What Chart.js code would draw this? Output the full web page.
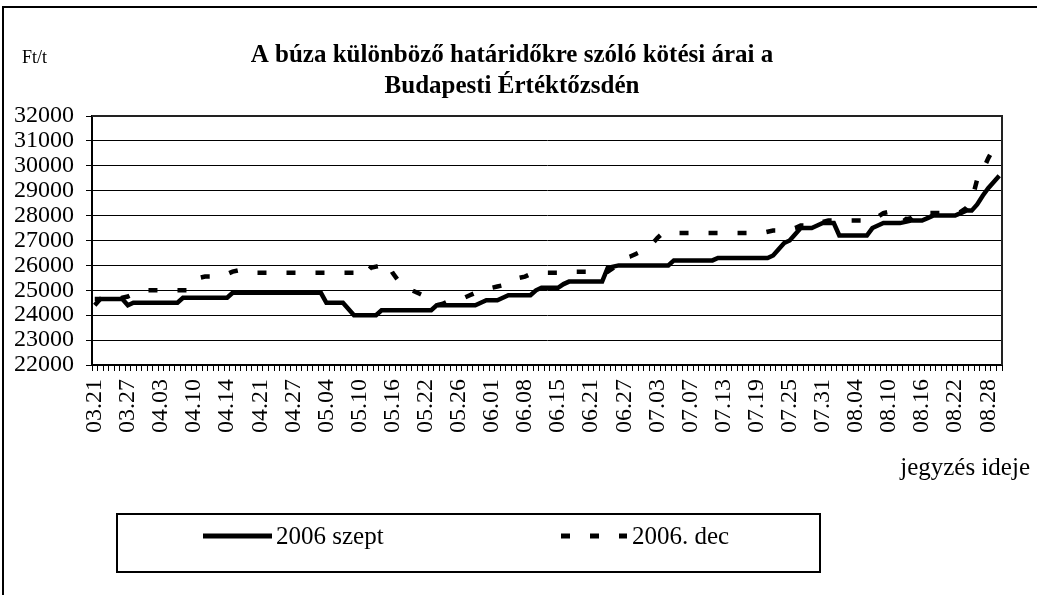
<!DOCTYPE html>
<html lang="hu">
<head>
<meta charset="UTF-8">
<title>A búza különböző határidőkre szóló kötési árai</title>
<script src="https://cdn.jsdelivr.net/npm/chart.js"></script>
<style>
    html, body { margin: 0; padding: 0; background: #fff; }
    #wrap { width: 1037px; height: 595px; }
</style>
</head>
<body>
<div id="wrap"><canvas id="chart" width="1037" height="595"></canvas></div>
<script>
    // tick labels on the x axis, one every labelStep quotes
    const tickLabels = ['03.21', '03.27', '04.03', '04.10', '04.14', '04.21', '04.27',
        '05.04', '05.10', '05.16', '05.22', '05.26', '06.01', '06.08', '06.15', '06.21',
        '06.27', '07.03', '07.07', '07.13', '07.19', '07.25', '07.31', '08.04', '08.10',
        '08.16', '08.22', '08.28'];
    const labelStep = 6;
    const yMin = 22000;
    const yMax = 32000;
    const yStep = 1000;
    const seriesNames = ['2006 szept', '2006. dec'];

    // Ft/t
    const szept = [
        24650, 24650, 24650, 24650, 24650, 24650, 24400, 24500, 24500, 24500,
        24500, 24500, 24500, 24500, 24500, 24500, 24700, 24700, 24700, 24700,
        24700, 24700, 24700, 24700, 24700, 24900, 24900, 24900, 24900, 24900,
        24900, 24900, 24900, 24900, 24900, 24900, 24900, 24900, 24900, 24900,
        24900, 24900, 24500, 24500, 24500, 24500, 24250, 24000, 24000, 24000,
        24000, 24000, 24200, 24200, 24200, 24200, 24200, 24200, 24200, 24200,
        24200, 24200, 24400, 24400, 24400, 24400, 24400, 24400, 24400, 24400,
        24500, 24600, 24600, 24600, 24700, 24800, 24800, 24800, 24800, 24800,
        25000, 25100, 25100, 25100, 25100, 25250, 25350, 25350, 25350, 25350,
        25350, 25350, 25350, 25900, 25950, 26000, 26000, 26000, 26000, 26000,
        26000, 26000, 26000, 26000, 26000, 26200, 26200, 26200, 26200, 26200,
        26200, 26200, 26200, 26300, 26300, 26300, 26300, 26300, 26300, 26300,
        26300, 26300, 26300, 26400, 26650, 26900, 27000, 27250, 27500, 27500,
        27500, 27600, 27700, 27700, 27700, 27200, 27200, 27200, 27200, 27200,
        27200, 27500, 27600, 27700, 27700, 27700, 27700, 27750, 27800, 27800,
        27800, 27900, 28000, 28000, 28000, 28000, 28000, 28100, 28200, 28200,
        28450, 28800, 29100, 29350, 29600
    ];
    const dec = [
        24400, 24650, 24650, 24650, 24650, 24700, 24750, 24850, 24950, 25000,
        25000, 25000, 25000, 25000, 25000, 25000, 25000, 25000, 25250, 25500,
        25550, 25550, 25600, 25600, 25650, 25750, 25800, 25750, 25700, 25700,
        25700, 25700, 25700, 25700, 25700, 25700, 25700, 25700, 25700, 25700,
        25700, 25700, 25700, 25700, 25700, 25700, 25700, 25700, 25550, 25650,
        25900, 25950, 26000, 26100, 25700, 25400, 25150, 25050, 24950, 24850,
        24750, 24600, 24400, 24450, 24550, 24600, 24650, 24700, 24800, 24900,
        25000, 25050, 25100, 25150, 25200, 25300, 25400, 25500, 25550, 25650,
        25700, 25700, 25700, 25700, 25700, 25750, 25750, 25750, 25750, 25750,
        25750, 25750, 25750, 25750, 25900, 26100, 26300, 26350, 26450, 26550,
        26700, 26850, 27100, 27300, 27300, 27300, 27300, 27300, 27300, 27300,
        27300, 27300, 27300, 27300, 27300, 27300, 27300, 27300, 27300, 27300,
        27300, 27300, 27350, 27400, 27400, 27400, 27450, 27500, 27600, 27600,
        27600, 27700, 27750, 27800, 27800, 27800, 27800, 27800, 27800, 27800,
        27800, 27800, 27950, 28100, 28150, 28150, 28150, 27850, 27900, 28100,
        28100, 28100, 28100, 28100, 28100, 28100, 28100, 28150, 28300, 28600,
        29450, 29800, 30300, 30700, 31050
    ];

    const categories = szept.map((v, i) => (i % labelStep === 0 ? tickLabels[i / labelStep] : ''));
    const serif = "'Liberation Serif', 'Times New Roman', serif";
    const lineDash = [9, 20];

    Chart.defaults.font.family = serif;
    Chart.defaults.color = '#000';

    // frame, titles and legend box drawn around the plot
    const decorations = {
        id: 'decorations',
        afterDraw(chart) {
            const ctx = chart.ctx;
            const area = chart.chartArea;
            ctx.save();
            ctx.strokeStyle = '#000';
            ctx.lineWidth = 2;
            ctx.beginPath();
            ctx.moveTo(3, 595);
            ctx.lineTo(3, 7);
            ctx.lineTo(1037, 7);
            ctx.stroke();

            ctx.strokeStyle = '#222';
            ctx.beginPath();
            ctx.moveTo(area.left, area.top);
            ctx.lineTo(area.right, area.top);
            ctx.lineTo(area.right, area.bottom);
            ctx.stroke();

            ctx.fillStyle = '#000';
            ctx.textBaseline = 'middle';
            ctx.textAlign = 'center';
            ctx.font = 'bold 25px ' + serif;
            ctx.fillText('A búza különböző határidőkre szóló kötési árai a', 512, 56);
            ctx.fillText('Budapesti Értéktőzsdén', 512, 87);

            ctx.textAlign = 'left';
            ctx.font = '18px ' + serif;
            ctx.fillText('Ft/t', 22, 58);

            ctx.textAlign = 'right';
            ctx.font = '25px ' + serif;
            ctx.fillText('jegyzés ideje', 1030, 468);

            // legend
            ctx.lineWidth = 2;
            ctx.strokeStyle = '#000';
            ctx.strokeRect(117, 514, 703, 58);
            ctx.lineWidth = 5;
            ctx.beginPath();
            ctx.moveTo(203, 536);
            ctx.lineTo(272, 536);
            ctx.stroke();
            ctx.setLineDash(lineDash);
            ctx.beginPath();
            ctx.moveTo(561, 536);
            ctx.lineTo(627, 536);
            ctx.stroke();
            ctx.setLineDash([]);
            ctx.textAlign = 'left';
            ctx.font = '25px ' + serif;
            ctx.fillText(seriesNames[0], 276, 537);
            ctx.fillText(seriesNames[1], 632, 537);
            ctx.restore();
        }
    };

    new Chart(document.getElementById('chart'), {
        type: 'line',
        data: {
            labels: categories,
            datasets: [{
                label: seriesNames[0],
                data: szept,
                borderColor: '#000',
                borderWidth: 4.5,
                borderJoinStyle: 'miter',
                pointRadius: 0,
                tension: 0,
                fill: false
            }, {
                label: seriesNames[1],
                data: dec,
                borderColor: '#000',
                borderWidth: 4.5,
                borderDash: lineDash,
                borderJoinStyle: 'miter',
                pointRadius: 0,
                tension: 0,
                fill: false
            }]
        },
        options: {
            responsive: false,
            animation: false,
            layout: { padding: { top: 116, right: 35, left: 0, bottom: 0 } },
            plugins: {
                legend: { display: false },
                title: { display: false },
                tooltip: { enabled: false }
            },
            scales: {
                x: {
                    type: 'category',
                    offset: true,
                    grid: {
                        display: true,
                        drawOnChartArea: false,
                        drawTicks: true,
                        tickLength: 6,
                        offset: true,
                        color: '#000',
                        lineWidth: 1
                    },
                    border: { display: true, color: '#000', width: 2 },
                    ticks: {
                        autoSkip: false,
                        maxRotation: 90,
                        minRotation: 90,
                        padding: 8,
                        font: { size: 24 },
                        color: '#000',
                        callback: (v, i) => categories[i]
                    },
                    afterFit: s => { s.height = 230; }
                },
                y: {
                    min: yMin,
                    max: yMax,
                    ticks: {
                        stepSize: yStep,
                        autoSkip: false,
                        padding: 12,
                        font: { size: 24 },
                        color: '#000',
                        callback: v => String(v)
                    },
                    grid: { color: '#000', lineWidth: 1, tickLength: 6 },
                    border: { color: '#000', width: 2 },
                    afterFit: s => { s.width = 92; }
                }
            }
        },
        plugins: [decorations]
    });
</script>
</body>
</html>
